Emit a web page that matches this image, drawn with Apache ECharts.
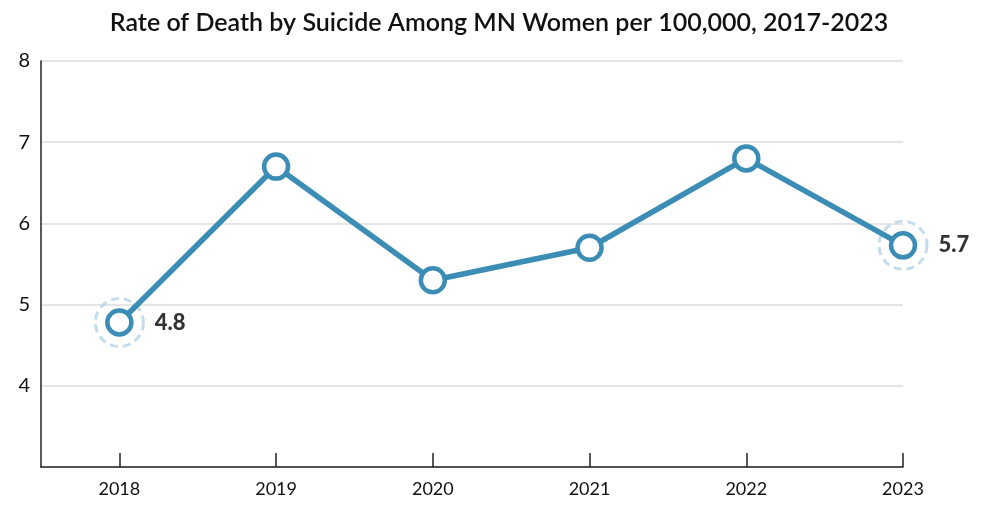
<!DOCTYPE html>
<html>
<head>
<meta charset="utf-8">
<script src="https://cdn.jsdelivr.net/npm/echarts@6/dist/echarts.min.js"></script>
<style>
html,body{margin:0;padding:0;background:#fff;}
#chart{width:998px;height:508px;}
</style>
</head>
<body>
<div id="chart"></div>
<script>
const titleText = "Rate of Death by Suicide Among MN Women per 100,000, 2017-2023";
const years = [2018, 2019, 2020, 2021, 2022, 2023];
const rates = [4.78, 6.7, 5.3, 5.7, 6.8, 5.73];
const highlightIdx = [0, 5];
const yTicks = [3, 4, 5, 6, 7, 8];

const lineColor = '#3b8db5';
const chart = echarts.init(document.getElementById('chart'), null, {renderer: 'canvas'});

const lineData = years.map((y, i) => [y, rates[i]]);
const haloData = highlightIdx.map(i => [years[i], rates[i]]);

chart.setOption({
  animation: false,
  backgroundColor: '#fff',
  title: {
    text: titleText,
    left: 'center',
    top: 5,
    textStyle: {fontFamily: 'Lato', fontWeight: 600, fontSize: 25, color: '#111'}
  },
  grid: {left: 41, right: 95, top: 61, bottom: 41, containLabel: false},
  xAxis: {
    type: 'value',
    min: 2017.5,
    max: 2023,
    axisLine: {show: true, lineStyle: {color: '#222', width: 1.5}},
    axisTick: {show: true, inside: true, length: 14, customValues: years, lineStyle: {color: '#222', width: 1.5}},
    axisLabel: {customValues: years, formatter: v => String(v), margin: 13, fontFamily: 'Lato', fontSize: 18, color: '#111'},
    splitLine: {show: false}
  },
  yAxis: {
    type: 'value',
    min: yTicks[0],
    max: yTicks[yTicks.length - 1],
    interval: 1,
    axisLine: {show: true, lineStyle: {color: '#222', width: 1.5}},
    axisTick: {show: false},
    axisLabel: {formatter: v => v === yTicks[0] ? '' : String(v), margin: 11, fontFamily: 'Lato', fontSize: 20, color: '#111'},
    splitLine: {show: true, lineStyle: {color: '#dcdcdc', width: 1.5}}
  },
  series: [
    {
      type: 'scatter',
      data: haloData,
      symbol: 'circle',
      symbolSize: 48,
      z: 1,
      itemStyle: {color: 'rgba(255,255,255,0)', borderColor: '#b6d3e6', borderWidth: 3, borderType: [8, 5]},
      label: {
        show: true,
        position: 'right',
        distance: 10,
        formatter: p => p.value[1].toFixed(1),
        fontFamily: 'Lato',
        fontWeight: 900,
        fontSize: 22,
        color: '#000'
      }
    },
    {
      type: 'line',
      data: lineData,
      z: 3,
      symbol: 'circle',
      symbolSize: 24,
      showAllSymbol: true,
      lineStyle: {color: lineColor, width: 5.5},
      itemStyle: {color: '#fff', borderColor: lineColor, borderWidth: 4.5},
      label: {show: false}
    }
  ]
});
</script>
</body>
</html>
